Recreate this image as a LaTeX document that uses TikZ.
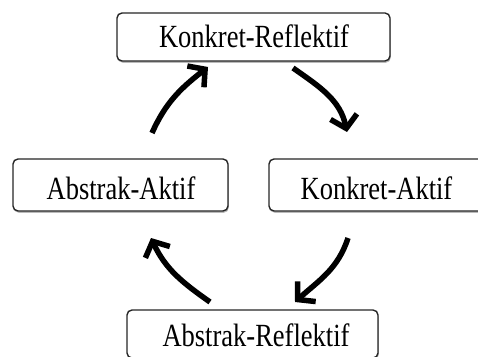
\documentclass[tikz,border=0pt]{standalone}
\usepackage{fontspec}
\setmainfont{Liberation Serif}
\usetikzlibrary{arrows.meta,shadows}
\tikzset{
  box/.style={draw=black!85, line width=1.4pt, rounded corners=5pt, fill=white,
    inner sep=0pt, drop shadow={shadow xshift=0.8pt, shadow yshift=-1.8pt, opacity=0.45, fill=black!60}},
  cyc/.style={line width=5.5pt, -{Straight Barb[length=12pt, width=27pt]}},
  lbl/.style={inner sep=0pt, font=\fontsize{26.5}{30}\selectfont}
}
\newcommand{\tall}[1]{\scalebox{1}[1.22]{#1}}
\begin{document}
\begin{tikzpicture}[x=1pt,y=1pt]
\useasboundingbox (0,0) rectangle (478,356);
\begin{scope}
\clip (0,0) rectangle (478,356);
\node[box, minimum width=273pt, minimum height=48pt] (kr) at (253.5,319) {};
\node[box, minimum width=215pt, minimum height=52pt] (aa) at (120.5,171) {};
\node[box, minimum width=215pt, minimum height=52pt] (ka) at (376.5,171) {};
\node[box, minimum width=251pt, minimum height=48pt] (ar) at (252.5,22) {};
\end{scope}
\node[lbl] (tkr) at (254,319.5) {\tall{Konkret-Reflektif}};
\node[lbl] (taa) at (121,168) {\tall{Abstrak-Aktif}};
\node[lbl] (tka) at (376.5,168) {\tall{Konkret-Aktif}};
\node[lbl] (tar) at (256,20.5) {\tall{Abstrak-Reflektif}};
\coordinate (a1) at (152,223);
\coordinate (a2) at (208,289);
\coordinate (b1) at (293,288);
\coordinate (b2) at (347,224);
\coordinate (c1) at (210,54);
\coordinate (c2) at (151,118);
\coordinate (d1) at (348,118);
\coordinate (d2) at (295,54);
\draw[cyc] (a1) to[out=66,in=218] (a2);
\draw[cyc] (b1) to[out=-35,in=102] (b2);
\draw[cyc] (c1) to[out=145,in=-65] (c2);
\draw[cyc] (d1) to[out=-108,in=42] (d2);
\end{tikzpicture}
\end{document}
